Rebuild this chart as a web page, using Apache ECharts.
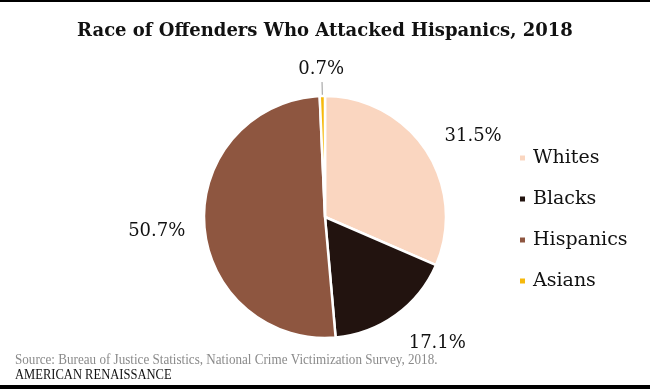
<!DOCTYPE html>
<html>
<head>
<meta charset="utf-8">
<script src="https://cdn.jsdelivr.net/npm/echarts@6/dist/echarts.min.js"></script>
<style>html,body{margin:0;padding:0;background:#fff;}#c{width:650px;height:389px;}</style>
</head>
<body>
<div id="c"></div>
<script>
const categories = ['Whites', 'Blacks', 'Hispanics', 'Asians'];
const values = [31.5, 17.1, 50.7, 0.7];
const colors = ['#FAD6C0', '#22130F', '#8E5640', '#F6B90C'];
const titleText = 'Race of Offenders Who Attacked Hispanics, 2018';
const sourceText = 'Source: Bureau of Justice Statistics, National Crime Victimization Survey, 2018.';
const brandText = 'AMERICAN RENAISSANCE';

const wide = '"DejaVu Serif", "Liberation Serif", serif';
const narrow = '"Liberation Serif", "DejaVu Serif", serif';
const chart = echarts.init(document.getElementById('c'), null, {renderer: 'canvas'});
chart.setOption({
  animation: false,
  backgroundColor: '#fff',
  title: {
    text: titleText, left: 'center', top: 17,
    textStyle: {fontFamily: wide, fontWeight: 'bold', fontSize: 18, color: '#111'}
  },
  legend: {
    orient: 'vertical', left: 513, top: 143,
    icon: 'rect', itemWidth: 7, itemHeight: 7, itemGap: 21,
    data: categories,
    textStyle: {fontFamily: wide, fontSize: 19, lineHeight: 20, color: '#111', padding: [0,0,0,2]}
  },
  graphic: [
    {type: 'rect', left: 0, top: 0, shape: {width: 650, height: 2}, style: {fill: '#000'}},
    {type: 'rect', left: 0, top: 385, shape: {width: 650, height: 4}, style: {fill: '#000'}},
    {type: 'text', x: 15, y: 360, scaleX: 0.845, style: {text: sourceText, fontFamily: narrow, fontSize: 15.5, fill: '#8a8a8a', verticalAlign: 'middle'}},
    {type: 'text', x: 15, y: 375, scaleX: 0.81, style: {text: brandText, fontFamily: narrow, fontSize: 15.5, fill: '#111', verticalAlign: 'middle'}}
  ],
  series: [{
    type: 'pie',
    center: [325, 217],
    radius: 121,
    startAngle: 90,
    clockwise: true,
    avoidLabelOverlap: false,
    itemStyle: {borderColor: '#fff', borderWidth: 2.5},
    label: {
      show: true, position: 'outside',
      formatter: p => p.value.toFixed(1) + '%',
      fontFamily: wide, fontSize: 18, color: '#111'
    },
    labelLine: {show: false, length: 22, length2: 0},
    data: categories.map((c, i) => {
      const d = {name: c, value: values[i], itemStyle: {color: colors[i]}};
      if (c === 'Asians') {
        d.labelLine = {show: true, length: 14, length2: 0, lineStyle: {color: '#999', width: 1}};
      }
      return d;
    }),
    labelLayout: function (p) {
      if (p.dataIndex === 3) return {dx: 27, dy: -13};
      if (p.dataIndex === 2) return {dx: 8, dy: 5};
      if (p.dataIndex === 1) return {dx: -5, dy: 10};
      return {dx: -5, dy: -2};
    }
  }]
});
</script>
</body>
</html>
